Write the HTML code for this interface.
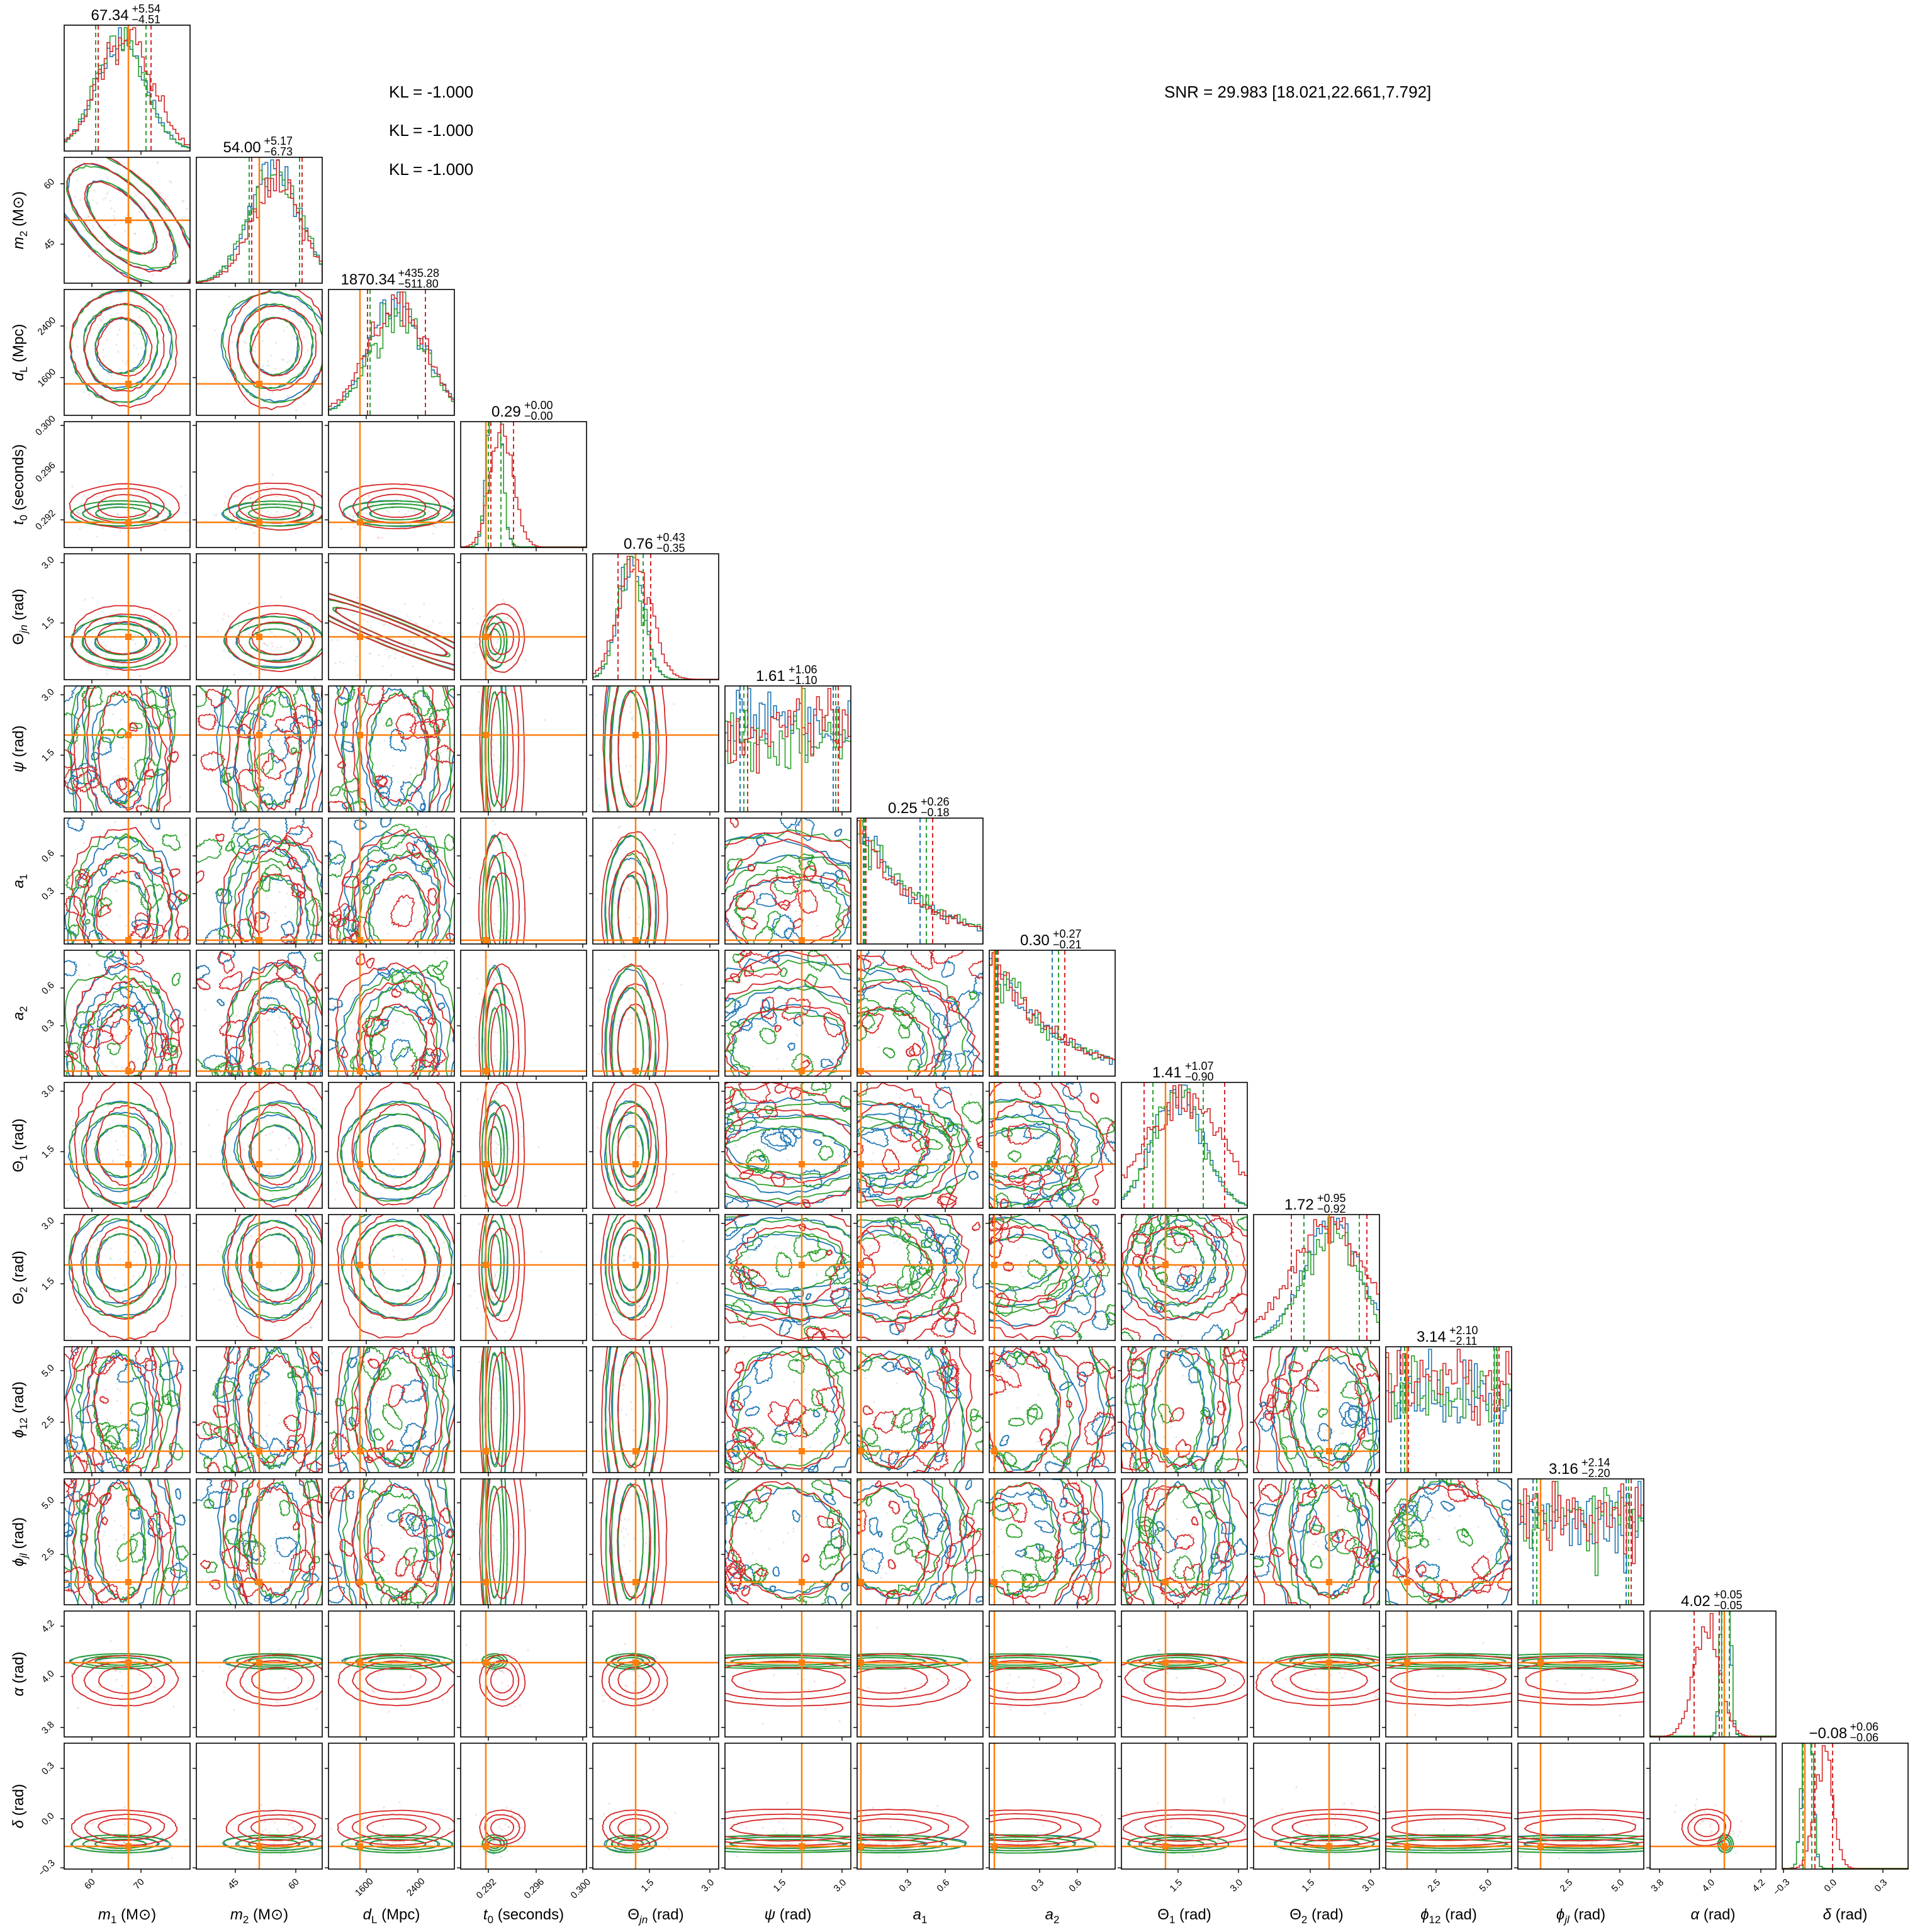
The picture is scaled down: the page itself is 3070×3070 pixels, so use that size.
<!DOCTYPE html>
<html><head><meta charset="utf-8"><style>
html,body{margin:0;padding:0;background:#fff;}
svg{display:block;font-family:"Liberation Sans","DejaVu Sans",sans-serif;}
</style></head><body>
<svg id="fig" xmlns="http://www.w3.org/2000/svg" width="3070" height="3070" viewBox="0 0 3070 3070">
<rect width="3070" height="3070" fill="#fff"/>
<text x="618" y="155" font-size="26" fill="#000">KL = -1.000</text>
<text x="618" y="216" font-size="26" fill="#000">KL = -1.000</text>
<text x="618" y="278" font-size="26" fill="#000">KL = -1.000</text>
<text x="1850" y="155" font-size="26" fill="#000">SNR = 29.983 [18.021,22.661,7.792]</text>
<g id="plots"></g>
</svg>
<script>
(function(){
var seed=987654321;
function rnd(){seed=(seed*1664525+1013904223)>>>0;return seed/4294967296;}
function gn(){return Math.sqrt(-2*Math.log(rnd()+1e-9))*Math.cos(2*Math.PI*rnd());}
var L0=102,T0=40,S=200,G=210,N=14;
var BL='#1f77b4',GR='#2ca02c',RD='#d62728',OR='#ff7f0e';
var P=[
{t:'g',bg:[.45,.2],rd:[.48,.21]},
{t:'g',bg:[.62,.2],rd:[.64,.2]},
{t:'g',bg:[.55,.22],rd:[.54,.23]},
{t:'g',bg:[.27,.05],rd:[.33,.09]},
{t:'g',bg:[.3,.1],rd:[.33,.13]},
{t:'u',bg:[.5,.45],rd:[.5,.45]},
{t:'d',bg:[.22,.32],rd:[.25,.32]},
{t:'d',bg:[.22,.32],rd:[.25,.32]},
{t:'g',bg:[.45,.2],rd:[.5,.32]},
{t:'g',bg:[.62,.22],rd:[.6,.3]},
{t:'u',bg:[.5,.45],rd:[.5,.45]},
{t:'u',bg:[.5,.45],rd:[.5,.45]},
{t:'g',bg:[.6,.03],rd:[.45,.1]},
{t:'g',bg:[.2,.035],rd:[.33,.07]}
];
var TR=[.51,.5,.25,.2,.34,.61,.03,.04,.35,.6,.17,.18,.59,.18];
var TK=[
[[.22,'60'],[.61,'70']],
[[.31,'45'],[.79,'60']],
[[.3,'1600'],[.71,'2400']],
[[.22,'0.292'],[.6,'0.296'],[.97,'0.300']],
[[.45,'1.5'],[.93,'3.0']],
[[.45,'1.5'],[.93,'3.0']],
[[.4,'0.3'],[.7,'0.6']],
[[.4,'0.3'],[.7,'0.6']],
[[.45,'1.5'],[.93,'3.0']],
[[.45,'1.5'],[.93,'3.0']],
[[.4,'2.5'],[.81,'5.0']],
[[.4,'2.5'],[.81,'5.0']],
[[.075,'3.8'],[.48,'4.0'],[.88,'4.2']],
[[.01,'−0.3'],[.4,'0.0'],[.8,'0.3']]
];
var TT=[['67.34','+5.54','−4.51'],['54.00','+5.17','−6.73'],['1870.34','+435.28','−511.80'],['0.29','+0.00','−0.00'],['0.76','+0.43','−0.35'],['1.61','+1.06','−1.10'],['0.25','+0.26','−0.18'],['0.30','+0.27','−0.21'],['1.41','+1.07','−0.90'],['1.72','+0.95','−0.92'],['3.14','+2.10','−2.11'],['3.16','+2.14','−2.20'],['4.02','+0.05','−0.05'],['−0.08','+0.06','−0.06']];
function it(s){return '<tspan font-style="italic">'+s+'</tspan>';}
function sb(s,ital){return '<tspan font-size="17" dy="6"'+(ital?' font-style="italic"':'')+'>'+s+'</tspan><tspan dy="-6">';}
var LB=[
it('m')+sb('1')+' (M⊙)</tspan>',
it('m')+sb('2')+' (M⊙)</tspan>',
it('d')+sb('L')+' (Mpc)</tspan>',
it('t')+sb('0')+' (seconds)</tspan>',
'Θ'+sb('jn',1)+' (rad)</tspan>',
it('ψ')+' (rad)',
it('a')+sb('1')+'</tspan>',
it('a')+sb('2')+'</tspan>',
'Θ'+sb('1')+' (rad)</tspan>',
'Θ'+sb('2')+' (rad)</tspan>',
it('ϕ')+sb('12')+' (rad)</tspan>',
it('ϕ')+sb('jl',1)+' (rad)</tspan>',
it('α')+' (rad)',
it('δ')+' (rad)'
];
function loop(cx,cy,rx,ry,rot,amp){
 var n=64,h=[],k,t,d='';
 for(k=0;k<4;k++)h.push([(rnd()-.5)*amp*2/(k+1),rnd()*6.28,k+2]);
 for(t=0;t<n;t++){var th=t/n*2*Math.PI,f=1;
  for(k=0;k<h.length;k++)f+=h[k][0]*Math.sin(h[k][2]*th+h[k][1]);
  f+=(rnd()-.5)*amp*.7;
  var x=rx*f*Math.cos(th),y=ry*f*Math.sin(th);
  var xr=x*Math.cos(rot)-y*Math.sin(rot),yr=x*Math.sin(rot)+y*Math.cos(rot);
  d+=(t?'L':'M')+(cx+xr).toFixed(1)+' '+(cy+yr).toFixed(1);}
 return d+'Z';}
function spec(p,red){var s=red?p.rd:p.bg;return {c:s[0],sd:s[1],t:p.t};}
function pdf(s,x){
 if(s.t==='u')return 0.8+0.18*gn();
 if(s.t==='d')return Math.exp(-x/0.5)*(1+0.1*gn());
 var z=(x-s.c)/s.sd;return Math.exp(-z*z/2)*(1+0.1*gn())+0.003;}
var out='';
var cols=[BL,GR,RD];
for(var i=0;i<N;i++){for(var j=0;j<=i;j++){
 var X=L0+G*j,Y=T0+G*i,body='';
 if(i===j){
  for(var c=0;c<3;c++){
   var s=spec(P[i],c===2),nb=44,v=[],mx=0,b;
   for(b=0;b<nb;b++){var val=Math.max(0,pdf(s,(b+.5)/nb));v.push(val);if(val>mx)mx=val;}
   var sc=S*0.98/mx; if(s.t==='g'&&s.sd<0.06)sc*=1.8;
   var d='M0 '+S;
   for(b=0;b<nb;b++){var yy=(S-v[b]*sc).toFixed(1);d+='L'+(b*S/nb).toFixed(1)+' '+yy+'L'+((b+1)*S/nb).toFixed(1)+' '+yy;}
   d+='L'+S+' '+S;
   body+='<path d="'+d+'" fill="none" stroke="'+cols[c]+'" stroke-width="1.6"/>';
   var q1,q2;
   if(s.t==='u'){q1=.12+.03*c;q2=.86+.02*c;}else if(s.t==='d'){q1=.05+.01*c;q2=.5+.05*c;}else{q1=s.c-s.sd;q2=s.c+s.sd;}
   [q1,q2].forEach(function(q){var xx=(q*S).toFixed(1);body+='<line x1="'+xx+'" y1="0" x2="'+xx+'" y2="'+S+'" stroke="'+cols[c]+'" stroke-width="2" stroke-dasharray="7,5"/>';});
  }
  var tx=(TR[i]*S).toFixed(1);
  body+='<line x1="'+tx+'" y1="0" x2="'+tx+'" y2="'+S+'" stroke="'+OR+'" stroke-width="2.5"/>';
 } else {
  var px=P[j],py=P[i];
  var broad=(px.bg[1]>0.11&&py.bg[1]>0.11);
  var messy=broad&&(px.t!=='g'||py.t!=='g'||(j>=8&&i>=8));
  for(var c2=0;c2<3;c2++){var sx=spec(px,c2===2),sy=spec(py,c2===2);
   for(var k=0;k<25;k++){var dx=(sx.c+gn()*sx.sd*1.3)*S,dy=(1-(sy.c+gn()*sy.sd*1.3))*S;
    body+='<circle cx="'+dx.toFixed(0)+'" cy="'+dy.toFixed(0)+'" r="1.6" fill="'+cols[c2]+'" opacity="0.15"/>';}}
  for(var c3=0;c3<3;c3++){
   var sx2=spec(px,c3===2),sy2=spec(py,c3===2);
   var cx=sx2.c*S,cy=(1-sy2.c)*S,rx=sx2.sd*S,ry=sy2.sd*S,rot=0;
   if(i===1&&j===0){cx=.45*S;cy=.48*S;rx=.36*S;ry=.17*S;rot=Math.PI/4;}
   if(i===4&&j===2){cx=.5*S;cy=.62*S;rx=.48*S;ry=.06*S;rot=0.38;}
   var amp=messy?0.14:(broad?0.06:0.04);
   var lv=[1.0,1.5,2.0];
   for(var l=0;l<3;l++)body+='<path d="'+loop(cx,cy,rx*lv[l],ry*lv[l],rot,amp)+'" fill="none" stroke="'+cols[c3]+'" stroke-width="1.8"/>';
   if(messy){for(var m=0;m<9;m++){var r=4+rnd()*14;
    body+='<path d="'+loop(rnd()*S,rnd()*S,r*(0.6+rnd()),r,rnd()*3,0.3)+'" fill="none" stroke="'+cols[c3]+'" stroke-width="1.6"/>';}}
  }
  var ox=(TR[j]*S).toFixed(1),oy=((1-TR[i])*S).toFixed(1);
  body+='<line x1="'+ox+'" y1="0" x2="'+ox+'" y2="'+S+'" stroke="'+OR+'" stroke-width="2.5"/>';
  body+='<line x1="0" y1="'+oy+'" x2="'+S+'" y2="'+oy+'" stroke="'+OR+'" stroke-width="2.5"/>';
  body+='<rect x="'+(ox-5)+'" y="'+(oy-5)+'" width="10" height="10" fill="'+OR+'"/>';
 }
 out+='<svg x="'+X+'" y="'+Y+'" width="'+S+'" height="'+S+'" viewBox="0 0 '+S+' '+S+'">'+body+'</svg>';
 out+='<rect x="'+X+'" y="'+Y+'" width="'+S+'" height="'+S+'" fill="none" stroke="#000" stroke-width="1.6"/>';
 TK[j].forEach(function(t){var xx=X+t[0]*S;out+='<line x1="'+xx+'" y1="'+(Y+S)+'" x2="'+xx+'" y2="'+(Y+S+6)+'" stroke="#000" stroke-width="1.4"/>';
  if(i===N-1){var ty=Y+S+22+t[1].length*2.5;out+='<text x="'+xx+'" y="'+ty+'" font-size="15" text-anchor="middle" transform="rotate(-45 '+xx+' '+ty+')">'+t[1]+'</text>';}});
 if(i!==j){TK[i].forEach(function(t){var yy=Y+(1-t[0])*S;out+='<line x1="'+X+'" y1="'+yy+'" x2="'+(X-6)+'" y2="'+yy+'" stroke="#000" stroke-width="1.4"/>';
  if(j===0){var lx=X-20-t[1].length*2;out+='<text x="'+lx+'" y="'+(yy+5)+'" font-size="15" text-anchor="middle" transform="rotate(-45 '+lx+' '+yy+')">'+t[1]+'</text>';}});}
}}
for(var d2=0;d2<N;d2++){var t=TT[d2],cx2=L0+G*d2+S/2,ty2=T0+G*d2;
 var mw=t[0].length*13,w=mw+Math.max(t[1].length,t[2].length)*10,sx3=cx2-w/2;
 out+='<text x="'+sx3+'" y="'+(ty2-8)+'" font-size="24">'+t[0]+'</text>';
 out+='<text x="'+(sx3+mw)+'" y="'+(ty2-20)+'" font-size="18">'+t[1]+'</text>';
 out+='<text x="'+(sx3+mw)+'" y="'+(ty2-3)+'" font-size="18">'+t[2]+'</text>';}
for(var a=0;a<N;a++){var xc=L0+G*a+S/2;
 out+='<text x="'+xc+'" y="3050" font-size="24" text-anchor="middle">'+LB[a]+'</text>';
 if(a>0){var yc=T0+G*a+S/2;out+='<text x="0" y="0" font-size="24" text-anchor="middle" transform="translate(37 '+yc+') rotate(-90)">'+LB[a]+'</text>';}}
document.getElementById('plots').innerHTML=out;
})();
</script>
</body></html>
